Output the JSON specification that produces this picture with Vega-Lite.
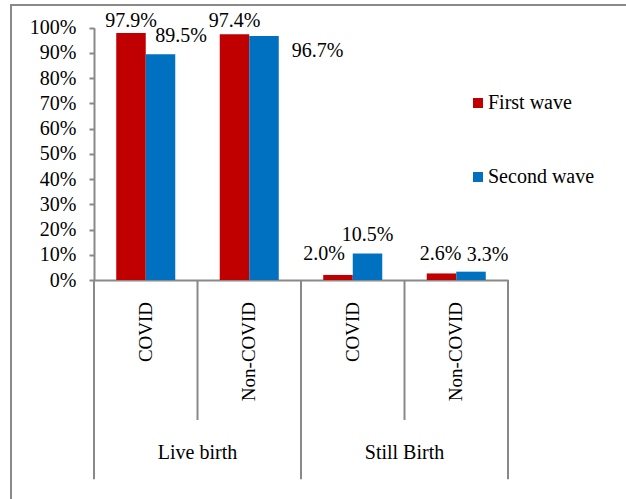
{
  "$schema": "https://vega.github.io/schema/vega-lite/v6.json",
  "width": 615,
  "height": 494,
  "autosize": {"type": "none"},
  "padding": {"left": 11, "top": 5, "right": 0, "bottom": 0},
  "background": "white",
  "config": {
    "font": "Liberation Serif",
    "view": {"stroke": "#898989", "strokeWidth": 2, "strokeDash": [616, 1108, 500]}
  },
  "data": {
    "values": [
      {"group": "Live birth", "sub": "COVID", "cat": "Live birth|COVID", "wave": "First wave", "value": 0.979},
      {"group": "Live birth", "sub": "COVID", "cat": "Live birth|COVID", "wave": "Second wave", "value": 0.895},
      {"group": "Live birth", "sub": "Non-COVID", "cat": "Live birth|Non-COVID", "wave": "First wave", "value": 0.974},
      {"group": "Live birth", "sub": "Non-COVID", "cat": "Live birth|Non-COVID", "wave": "Second wave", "value": 0.967},
      {"group": "Still Birth", "sub": "COVID", "cat": "Still Birth|COVID", "wave": "First wave", "value": 0.020},
      {"group": "Still Birth", "sub": "COVID", "cat": "Still Birth|COVID", "wave": "Second wave", "value": 0.105},
      {"group": "Still Birth", "sub": "Non-COVID", "cat": "Still Birth|Non-COVID", "wave": "First wave", "value": 0.026},
      {"group": "Still Birth", "sub": "Non-COVID", "cat": "Still Birth|Non-COVID", "wave": "Second wave", "value": 0.033}
    ]
  },
  "layer": [
    {
      "mark": {"type": "bar"},
      "encoding": {
        "x": {
          "field": "cat", "type": "nominal",
          "scale": {"domain": ["Live birth|COVID", "Live birth|Non-COVID", "Still Birth|COVID", "Still Birth|Non-COVID"], "range": [83, 497], "paddingInner": 0, "paddingOuter": 0},
          "axis": {"orient": "bottom", "offset": -219, "ticks": false, "labels": false, "title": null, "grid": false, "domainColor": "#898989", "domainWidth": 2}
        },
        "xOffset": {
          "field": "wave", "type": "nominal",
          "scale": {"domain": ["First wave", "Second wave"], "paddingInner": 0, "paddingOuter": 0.754}
        },
        "y": {
          "field": "value", "type": "quantitative",
          "scale": {"domain": [0, 1], "range": [275, 22.7], "nice": false},
          "axis": {"values": [0, 0.1, 0.2, 0.3, 0.4, 0.5, 0.6, 0.7, 0.8, 0.9, 1], "format": ".0%", "offset": -83, "title": null, "grid": false, "domainColor": "#898989", "domainWidth": 2, "tickColor": "#898989", "tickWidth": 2, "tickSize": 5, "labelFontSize": 20, "labelColor": "black", "labelPadding": 13, "labelFont": "Liberation Serif"}
        },
        "color": {
          "field": "wave", "type": "nominal",
          "scale": {"domain": ["First wave", "Second wave"], "range": ["#C00000", "#0070C0"]},
          "legend": {"orient": "none", "legendX": 457, "legendY": 88, "title": null, "symbolType": "square", "symbolSize": 100, "symbolStrokeWidth": 0, "labelFontSize": 20, "labelFont": "Liberation Serif", "labelColor": "black", "rowPadding": 54, "padding": 0, "labelOffset": 0}
        }
      }
    },
    {
      "transform": [{"filter": "datum.sub == 'COVID' && datum.wave == 'First wave'"}],
      "mark": {"type": "rule", "color": "#898989", "strokeWidth": 2},
      "encoding": {
        "x": {"field": "cat", "type": "nominal", "bandPosition": 0},
        "y": {"datum": 0},
        "y2": {"datum": -0.79}
      }
    },
    {
      "transform": [{"filter": "datum.cat == 'Still Birth|Non-COVID' && datum.wave == 'First wave'"}],
      "mark": {"type": "rule", "color": "#898989", "strokeWidth": 2},
      "encoding": {
        "x": {"field": "cat", "type": "nominal", "bandPosition": 1},
        "y": {"datum": 0},
        "y2": {"datum": -0.79}
      }
    },
    {
      "transform": [{"filter": "datum.sub == 'Non-COVID' && datum.wave == 'First wave'"}],
      "mark": {"type": "rule", "color": "#898989", "strokeWidth": 2},
      "encoding": {
        "x": {"field": "cat", "type": "nominal", "bandPosition": 0},
        "y": {"datum": 0},
        "y2": {"datum": -0.555}
      }
    },
    {
      "transform": [{"filter": "datum.wave == 'First wave'"}],
      "mark": {"type": "text", "angle": 270, "align": "right", "baseline": "middle", "fontSize": 19, "color": "black"},
      "encoding": {
        "x": {"field": "cat", "type": "nominal"},
        "y": {"datum": -0.087},
        "text": {"field": "sub"}
      }
    },
    {
      "transform": [{"filter": "datum.sub == 'Non-COVID' && datum.wave == 'First wave'"}],
      "mark": {"type": "text", "align": "center", "baseline": "middle", "fontSize": 20, "color": "black"},
      "encoding": {
        "x": {"field": "cat", "type": "nominal", "bandPosition": 0},
        "y": {"datum": -0.686},
        "text": {"field": "group"}
      }
    },
    {
      "transform": [{"filter": "datum.cat == 'Live birth|COVID' && datum.wave == 'First wave'"}],
      "mark": {"type": "text", "align": "center", "baseline": "alphabetic", "fontSize": 20, "color": "black", "dx": 0, "dy": -6},
      "encoding": {"x": {"field": "cat", "type": "nominal"}, "xOffset": {"field": "wave"}, "y": {"field": "value", "type": "quantitative"}, "text": {"field": "value", "format": ".1%"}}
    },
    {
      "transform": [{"filter": "datum.cat == 'Live birth|COVID' && datum.wave == 'Second wave'"}],
      "mark": {"type": "text", "align": "center", "baseline": "alphabetic", "fontSize": 20, "color": "black", "dx": 20.5, "dy": -12},
      "encoding": {"x": {"field": "cat", "type": "nominal"}, "xOffset": {"field": "wave"}, "y": {"field": "value", "type": "quantitative"}, "text": {"field": "value", "format": ".1%"}}
    },
    {
      "transform": [{"filter": "datum.cat == 'Live birth|Non-COVID' && datum.wave == 'First wave'"}],
      "mark": {"type": "text", "align": "center", "baseline": "alphabetic", "fontSize": 20, "color": "black", "dx": 0, "dy": -7.5},
      "encoding": {"x": {"field": "cat", "type": "nominal"}, "xOffset": {"field": "wave"}, "y": {"field": "value", "type": "quantitative"}, "text": {"field": "value", "format": ".1%"}}
    },
    {
      "transform": [{"filter": "datum.cat == 'Live birth|Non-COVID' && datum.wave == 'Second wave'"}],
      "mark": {"type": "text", "align": "center", "baseline": "alphabetic", "fontSize": 20, "color": "black", "dx": 53.5, "dy": 21},
      "encoding": {"x": {"field": "cat", "type": "nominal"}, "xOffset": {"field": "wave"}, "y": {"field": "value", "type": "quantitative"}, "text": {"field": "value", "format": ".1%"}}
    },
    {
      "transform": [{"filter": "datum.cat == 'Still Birth|COVID' && datum.wave == 'First wave'"}],
      "mark": {"type": "text", "align": "center", "baseline": "alphabetic", "fontSize": 20, "color": "black", "dx": -14, "dy": -14.5},
      "encoding": {"x": {"field": "cat", "type": "nominal"}, "xOffset": {"field": "wave"}, "y": {"field": "value", "type": "quantitative"}, "text": {"field": "value", "format": ".1%"}}
    },
    {
      "transform": [{"filter": "datum.cat == 'Still Birth|COVID' && datum.wave == 'Second wave'"}],
      "mark": {"type": "text", "align": "center", "baseline": "alphabetic", "fontSize": 20, "color": "black", "dx": 0, "dy": -13},
      "encoding": {"x": {"field": "cat", "type": "nominal"}, "xOffset": {"field": "wave"}, "y": {"field": "value", "type": "quantitative"}, "text": {"field": "value", "format": ".1%"}}
    },
    {
      "transform": [{"filter": "datum.cat == 'Still Birth|Non-COVID' && datum.wave == 'First wave'"}],
      "mark": {"type": "text", "align": "center", "baseline": "alphabetic", "fontSize": 20, "color": "black", "dx": -1, "dy": -13},
      "encoding": {"x": {"field": "cat", "type": "nominal"}, "xOffset": {"field": "wave"}, "y": {"field": "value", "type": "quantitative"}, "text": {"field": "value", "format": ".1%"}}
    },
    {
      "transform": [{"filter": "datum.cat == 'Still Birth|Non-COVID' && datum.wave == 'Second wave'"}],
      "mark": {"type": "text", "align": "center", "baseline": "alphabetic", "fontSize": 20, "color": "black", "dx": 16.5, "dy": -11},
      "encoding": {"x": {"field": "cat", "type": "nominal"}, "xOffset": {"field": "wave"}, "y": {"field": "value", "type": "quantitative"}, "text": {"field": "value", "format": ".1%"}}
    }
  ]
}
